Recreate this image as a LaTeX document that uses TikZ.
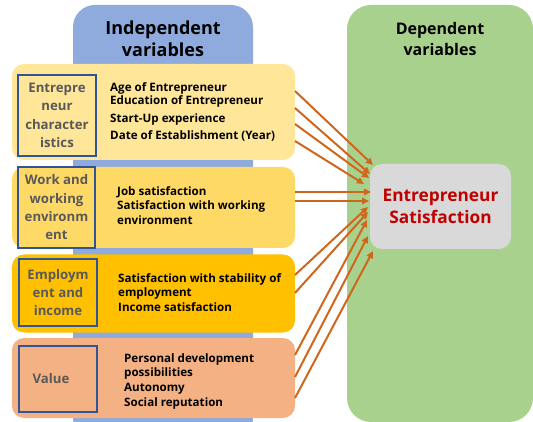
\documentclass[tikz,border=0pt]{standalone}
\usepackage{fontspec}
\setmainfont{Open Sans}
\usetikzlibrary{arrows.meta}
\definecolor{colblue}{HTML}{8FAADC}
\definecolor{colgreen}{HTML}{A9D18E}
\definecolor{boxA}{HTML}{FFE699}
\definecolor{boxB}{HTML}{FFD966}
\definecolor{boxC}{HTML}{FFC000}
\definecolor{boxD}{HTML}{F4B183}
\definecolor{centergray}{HTML}{D9D9D9}
\definecolor{darkred}{HTML}{C00000}
\definecolor{arrowcol}{HTML}{D0661C}
\definecolor{frameblue}{HTML}{2F5597}
\definecolor{labelgray}{HTML}{595959}
\begin{document}
\begin{tikzpicture}[x=1pt,y=-1pt,
  groupbox/.style={rounded corners=12pt, draw=none, minimum width=283pt, inner sep=0pt},
  labelbox/.style={draw=frameblue, line width=1.4pt, inner sep=0pt, align=center,
    text=labelgray, font=\bfseries\fontsize{13.2}{18.3}\selectfont},
  items/.style={anchor=north west, align=left, inner sep=0pt, font=\bfseries\fontsize{11.6}{14.8}\selectfont},
  title/.style={align=center, font=\bfseries\fontsize{18}{22}\selectfont},
  link/.style={draw=arrowcol, line width=2pt, -{Triangle[length=7pt,width=6.5pt]}}
]
\useasboundingbox (0,0) rectangle (533,422);
% columns
\fill[colblue, rounded corners=22pt] (73,440) -- (73,5) -- (253,5) -- (253,440) -- cycle;
\fill[colgreen, rounded corners=24pt] (347,422) -- (347,5) -- (533,5) -- (533,422) -- cycle;
\node[title] (tin) at (163,39) {Independent\\variables};
\node[title, font=\bfseries\fontsize{16}{21}\selectfont] (tdep) at (440,39) {Dependent\\variables};
% group boxes
\node[groupbox, fill=boxA, minimum height=96pt] (g1) at (153.5,112) {};
\node[groupbox, fill=boxB, minimum height=81pt] (g2) at (153.5,207.5) {};
\node[groupbox, fill=boxC, minimum height=78pt] (g3) at (153.5,293.5) {};
\node[groupbox, fill=boxD, minimum height=80pt] (g4) at (153.5,378) {};
% label boxes
\node[labelbox, minimum width=78pt, minimum height=81pt] (l1) at (57,115.5) {Entrepre\\neur\\character\\istics};
\node[labelbox, minimum width=77pt, minimum height=81pt] (l2) at (56.5,207.5) {Work and\\working\\environm\\ent};
\node[labelbox, minimum width=78pt, minimum height=67pt] (l3) at (58,292.5) {Employm\\ent and\\income};
\node[labelbox, minimum width=78pt, minimum height=66pt] (l4) at (58,379) {\hspace*{-14pt}Value};
% items
\node[items] (i1) at (110,82) {Age of Entrepreneur\\[-1pt]Education of Entrepreneur\\[3pt]Start-Up experience\\[2pt]Date of Establishment (Year)};
\node[items] (i2) at (117,186) {Job satisfaction\\Satisfaction with working\\environment};
\node[items] (i3) at (118,273) {Satisfaction with stability of\\employment\\Income satisfaction};
\node[items] (i4) at (124,353) {Personal development\\possibilities\\Autonomy\\Social reputation};
% center
\node[fill=centergray, rounded corners=12pt, minimum width=141pt, minimum height=85pt,
  align=center, text=darkred, font=\bfseries\fontsize{17.3}{22}\selectfont] (c) at (440.5,206.5) {Entrepreneur\\Satisfaction};
% arrow points
\coordinate (s1) at (295,91);   \coordinate (e1) at (373,165);
\coordinate (s2) at (295,108);  \coordinate (e2) at (370,174);
\coordinate (s3) at (295,124);  \coordinate (e3) at (369,178);
\coordinate (s4) at (295,141);  \coordinate (e4) at (364,184);
\coordinate (s5) at (295,192);  \coordinate (e5) at (371,192);
\coordinate (s6) at (295,201);  \coordinate (e6) at (369,201);
\coordinate (s7) at (295,275);  \coordinate (e7) at (368,207);
\coordinate (s8) at (295,293);  \coordinate (e8) at (368,212);
\coordinate (s9) at (295,355);  \coordinate (e9) at (367,220);
\coordinate (s10) at (295,377); \coordinate (e10) at (368,236);
\coordinate (s11) at (295,398); \coordinate (e11) at (373,251);
\foreach \k in {1,...,11} {\draw[link] (s\k) -- (e\k);}
\end{tikzpicture}
\end{document}
